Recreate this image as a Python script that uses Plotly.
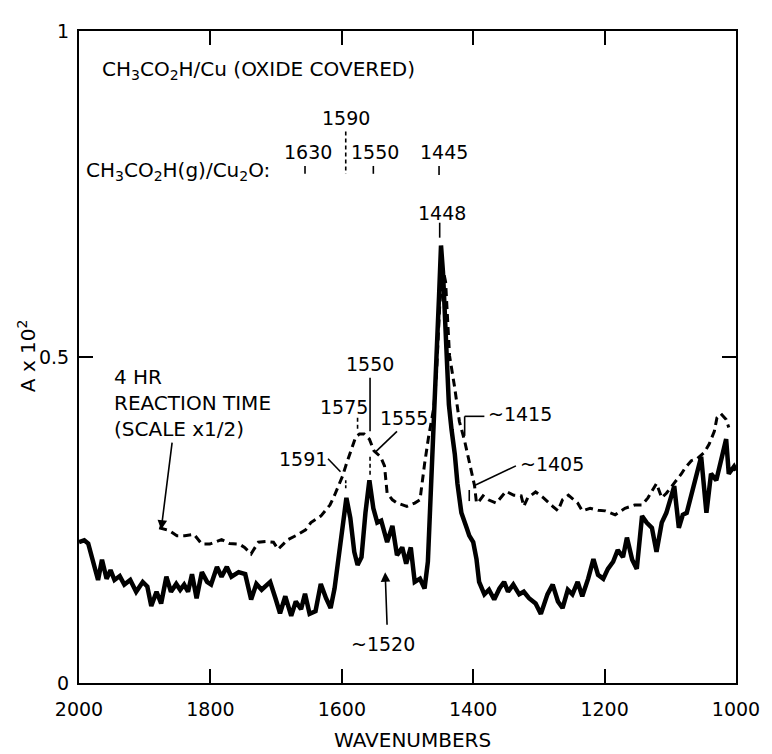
import plotly.graph_objects as go

# ---- data (wavenumber, absorbance x 10^2) ----
solid_wn = [2000, 1992, 1986, 1980, 1971, 1965, 1958, 1952, 1946, 1938, 1931, 1922, 1913, 1903,
            1896, 1890, 1882, 1875, 1867, 1860, 1852, 1846, 1840, 1834, 1828, 1821, 1813, 1805,
            1799, 1790, 1783, 1775, 1768, 1757, 1747, 1738, 1730, 1722, 1716, 1709, 1701, 1694,
            1686, 1677, 1670, 1662, 1656, 1649, 1640, 1632, 1624, 1617, 1611, 1606, 1599, 1593,
            1587, 1581, 1576, 1570, 1564, 1558, 1552, 1546, 1540, 1535, 1531, 1523, 1516, 1508,
            1502, 1495, 1489, 1481, 1474, 1469, 1465, 1460, 1456, 1452, 1449, 1446, 1443, 1440,
            1437, 1433, 1428, 1424, 1418, 1410, 1406, 1400, 1395, 1391, 1383, 1376, 1368, 1360,
            1353, 1347, 1339, 1330, 1323, 1315, 1305, 1297, 1287, 1279, 1271, 1264, 1256, 1249,
            1241, 1234, 1225, 1217, 1210, 1202, 1195, 1187, 1180, 1172, 1166, 1158, 1151, 1143,
            1136, 1128, 1121, 1113, 1106, 1098, 1094, 1087, 1081, 1075, 1066, 1060, 1053, 1045,
            1038, 1030, 1023, 1015, 1011, 1003, 1000]
solid_abs = [0.216, 0.219, 0.214, 0.193, 0.158, 0.189, 0.160, 0.173, 0.158, 0.164, 0.151, 0.158,
             0.140, 0.155, 0.148, 0.118, 0.140, 0.122, 0.163, 0.140, 0.152, 0.143, 0.151, 0.140,
             0.167, 0.130, 0.170, 0.155, 0.151, 0.178, 0.163, 0.178, 0.163, 0.170, 0.167, 0.128,
             0.152, 0.143, 0.148, 0.155, 0.130, 0.107, 0.133, 0.103, 0.125, 0.113, 0.137, 0.106,
             0.110, 0.152, 0.130, 0.115, 0.145, 0.186, 0.235, 0.284, 0.253, 0.201, 0.181, 0.193,
             0.261, 0.311, 0.268, 0.246, 0.249, 0.231, 0.216, 0.241, 0.196, 0.208, 0.183, 0.208,
             0.155, 0.160, 0.145, 0.186, 0.276, 0.371, 0.498, 0.593, 0.671, 0.630, 0.548, 0.472,
             0.427, 0.389, 0.351, 0.306, 0.261, 0.238, 0.226, 0.216, 0.190, 0.155, 0.136, 0.143,
             0.128, 0.145, 0.155, 0.140, 0.151, 0.136, 0.140, 0.130, 0.122, 0.106, 0.136, 0.151,
             0.125, 0.115, 0.143, 0.136, 0.155, 0.133, 0.160, 0.190, 0.166, 0.160, 0.175, 0.186,
             0.204, 0.193, 0.223, 0.189, 0.175, 0.256, 0.246, 0.238, 0.201, 0.246, 0.261, 0.288,
             0.302, 0.238, 0.258, 0.261, 0.296, 0.324, 0.347, 0.261, 0.321, 0.311, 0.341, 0.374,
             0.321, 0.332, 0.326]

dashed_wn = [1878, 1863, 1851, 1839, 1825, 1813, 1801, 1783, 1771, 1756, 1748, 1738, 1727, 1715,
             1704, 1697, 1682, 1670, 1655, 1647, 1632, 1618, 1611, 1599, 1593, 1588, 1579, 1573,
             1566, 1558, 1551, 1541, 1535, 1531, 1523, 1516, 1501, 1489, 1481, 1474, 1468, 1460,
             1456, 1451, 1446, 1442, 1440, 1436, 1428, 1421, 1413, 1403, 1398, 1395, 1391, 1385,
             1377, 1365, 1350, 1338, 1327, 1323, 1317, 1305, 1293, 1279, 1271, 1264, 1255, 1241,
             1234, 1222, 1210, 1199, 1184, 1169, 1154, 1143, 1134, 1121, 1113, 1106, 1094, 1083,
             1078, 1068, 1059, 1048, 1041, 1033, 1029, 1023, 1015, 1011]
dashed_abs = [0.238, 0.234, 0.226, 0.226, 0.228, 0.213, 0.213, 0.220, 0.214, 0.213, 0.208, 0.198,
              0.216, 0.217, 0.216, 0.205, 0.220, 0.226, 0.235, 0.246, 0.256, 0.273, 0.288, 0.317,
              0.336, 0.351, 0.377, 0.382, 0.382, 0.374, 0.356, 0.347, 0.333, 0.291, 0.281, 0.276,
              0.271, 0.276, 0.281, 0.336, 0.377, 0.422, 0.472, 0.578, 0.635, 0.615, 0.578, 0.502,
              0.452, 0.401, 0.371, 0.326, 0.303, 0.276, 0.279, 0.287, 0.281, 0.276, 0.294, 0.288,
              0.287, 0.271, 0.284, 0.293, 0.284, 0.271, 0.264, 0.281, 0.288, 0.276, 0.264, 0.268,
              0.265, 0.264, 0.258, 0.268, 0.273, 0.273, 0.284, 0.306, 0.284, 0.291, 0.306, 0.321,
              0.329, 0.341, 0.344, 0.354, 0.366, 0.386, 0.407, 0.413, 0.404, 0.392]

x_tickvals = [2000, 1800, 1600, 1400, 1200, 1000]
x_ticktext = ["2000", "1800", "1600", "1400", "1200", "1000"]
y_tickvals = [0, 0.5, 1]
y_ticktext = ["0", "0.5", "1"]

FONT = "DejaVu Sans"
FS_TXT = 20   # word labels
FS_NUM = 19   # numeric labels

fig = go.Figure()
fig.add_trace(go.Scatter(x=dashed_wn, y=dashed_abs, mode="lines",
                         line=dict(color="black", width=3, dash="8px,5px"),
                         hoverinfo="skip", showlegend=False))
fig.add_trace(go.Scatter(x=solid_wn, y=solid_abs, mode="lines",
                         line=dict(color="black", width=4.5),
                         hoverinfo="skip", showlegend=False))

ann = []

def txt(x, y, s, xanchor="center", ref="data", size=FS_NUM):
    d = dict(x=x, y=y, text=s, showarrow=False, xanchor=xanchor, yanchor="middle",
             font=dict(family=FONT, size=size, color="black"), align="left")
    if ref == "paper":
        d.update(xref="paper", yref="paper")
    ann.append(d)

txt(1968, 0.940, "CH<sub>3</sub>CO<sub>2</sub>H/Cu (OXIDE COVERED)", xanchor="left", size=FS_TXT)
txt(1993, 0.786, "CH<sub>3</sub>CO<sub>2</sub>H(g)/Cu<sub>2</sub>O:", xanchor="left", size=FS_TXT)
txt(1652, 0.814, "1630")
txt(1594, 0.867, "1590")
txt(1549, 0.814, "1550")
txt(1445, 0.814, "1445")
txt(1447, 0.721, "1448")
txt(1557, 0.490, "1550")
txt(1596, 0.424, "1575")
txt(1505, 0.407, "1555")
txt(1659, 0.344, "1591")
txt(1380, 0.412, "~1415", xanchor="left")
txt(1332, 0.336, "~1405", xanchor="left")
txt(1538, 0.060, "~1520")
txt(1950, 0.430, "4 HR<br>REACTION TIME<br>(SCALE x1/2)", xanchor="left", size=FS_TXT)

# axis titles
txt(0.507, -0.087, "WAVENUMBERS", ref="paper", size=FS_TXT)
ann.append(dict(x=-0.080, y=0.502, xref="paper", yref="paper", text="A x 10<sup>2</sup>",
                showarrow=False, textangle=-90, xanchor="center", yanchor="middle",
                font=dict(family=FONT, size=FS_TXT, color="black")))

# arrows
def arrow(x, y, ax, ay):
    ann.append(dict(x=x, y=y, ax=ax, ay=ay, xref="x", yref="y", axref="x", ayref="y",
                    text="", showarrow=True, arrowhead=2, arrowsize=1.2, arrowwidth=1.6,
                    arrowcolor="black"))

arrow(1875, 0.235, 1858, 0.371)
arrow(1534, 0.170, 1531, 0.087)

shapes = []

def seg(x0, y0, x1, y1, dash="solid", w=1.6):
    shapes.append(dict(type="line", x0=x0, y0=y0, x1=x1, y1=y1, xref="x", yref="y",
                       line=dict(color="black", width=w, dash=dash)))

seg(1656, 0.793, 1656, 0.781)
seg(1594, 0.846, 1594, 0.781, dash="4px,3px")
seg(1552, 0.793, 1552, 0.781)
seg(1452, 0.793, 1452, 0.779)
seg(1451, 0.706, 1451, 0.683)
seg(1557, 0.468, 1557, 0.386)
seg(1557, 0.347, 1557, 0.317, dash="4px,3px")
seg(1576, 0.407, 1576, 0.386, dash="4px,3px")
seg(1549, 0.354, 1516, 0.386)
seg(1621, 0.344, 1602, 0.324)
seg(1594, 0.311, 1594, 0.296, dash="3px,2px")
seg(1413, 0.379, 1413, 0.409)
seg(1413, 0.409, 1383, 0.409)
seg(1398, 0.303, 1335, 0.333)
seg(1406, 0.296, 1406, 0.279)

# page body has an 8px default margin, so the figure is sized to fit the window
fig.update_layout(
    width=764, height=746,
    margin=dict(l=71, r=30, t=12, b=71),
    paper_bgcolor="white", plot_bgcolor="white",
    annotations=ann, shapes=shapes,
    font=dict(family=FONT, size=FS_NUM, color="black"),
)
fig.update_xaxes(range=[2000, 1000], tickvals=x_tickvals, ticktext=x_ticktext,
                 ticks="inside", ticklen=14, tickwidth=2, tickcolor="black",
                 showline=True, linewidth=2, linecolor="black", mirror="allticks",
                 showgrid=False, zeroline=False, ticklabelstandoff=8,
                 tickfont=dict(family=FONT, size=FS_NUM, color="black"))
fig.update_yaxes(range=[0, 1], tickvals=y_tickvals, ticktext=y_ticktext,
                 ticks="inside", ticklen=14, tickwidth=2, tickcolor="black",
                 showline=True, linewidth=2, linecolor="black", mirror="allticks",
                 showgrid=False, zeroline=False, ticklabelstandoff=4,
                 tickfont=dict(family=FONT, size=FS_NUM, color="black"))

fig.write_html("out.html")
